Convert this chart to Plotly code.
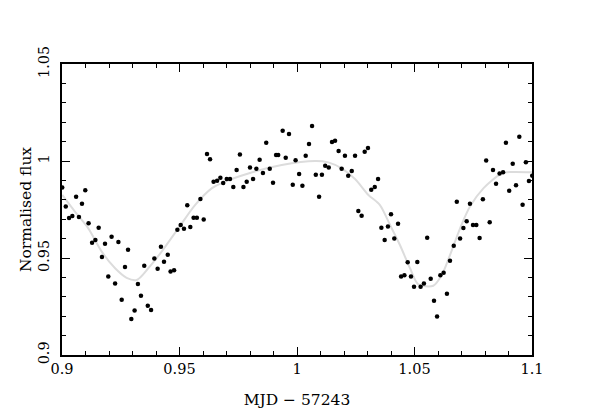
import plotly.graph_objects as go

# Observed points: MJD - 57243, normalised flux
mjd = [0.9001, 0.9016, 0.9030, 0.9044, 0.9060, 0.9072, 0.9085, 0.9099, 0.9113, 0.9128,
       0.9142, 0.9156, 0.9170, 0.9183, 0.9197, 0.9211, 0.9226, 0.9240, 0.9254, 0.9268,
       0.9281, 0.9295, 0.9309, 0.9323, 0.9336, 0.9350, 0.9365, 0.9379, 0.9393, 0.9407,
       0.9421, 0.9434, 0.9450, 0.9462, 0.9477, 0.9491, 0.9505, 0.9519, 0.9533, 0.9546,
       0.9560, 0.9574, 0.9589, 0.9603, 0.9617, 0.9630, 0.9645, 0.9660, 0.9674, 0.9686,
       0.9701, 0.9715, 0.9729, 0.9743, 0.9757, 0.9772, 0.9786, 0.9800, 0.9813, 0.9827,
       0.9841, 0.9855, 0.9869, 0.9884, 0.9898, 0.9911, 0.9920, 0.9939, 0.9952, 0.9966,
       0.9982, 0.9994, 1.0009, 1.0023, 1.0037, 1.0051, 1.0064, 1.0080, 1.0094, 1.0106,
       1.0120, 1.0135, 1.0149, 1.0162, 1.0177, 1.0190, 1.0204, 1.0218, 1.0233, 1.0247,
       1.0261, 1.0275, 1.0288, 1.0302, 1.0316, 1.0331, 1.0345, 1.0359, 1.0373, 1.0387,
       1.0400, 1.0414, 1.0430, 1.0443, 1.0457, 1.0471, 1.0485, 1.0498, 1.0512, 1.0526,
       1.0540, 1.0554, 1.0569, 1.0583, 1.0596, 1.0610, 1.0624, 1.0638, 1.0651, 1.0667,
       1.0680, 1.0694, 1.0708, 1.0722, 1.0736, 1.0749, 1.0763, 1.0777, 1.0791, 1.0805,
       1.0820, 1.0834, 1.0847, 1.0862, 1.0877, 1.0889, 1.0903, 1.0918, 1.0932, 1.0946,
       1.0960, 1.0974, 1.0987, 1.1001]
flux = [0.9864, 0.9765, 0.9706, 0.9716, 0.9816, 0.9711, 0.9780, 0.9849, 0.9679, 0.9579,
        0.9593, 0.9656, 0.9505, 0.9574, 0.9405, 0.9610, 0.9368, 0.9582, 0.9285, 0.9454,
        0.9543, 0.9186, 0.9229, 0.9366, 0.9306, 0.9460, 0.9254, 0.9232, 0.9497, 0.9445,
        0.9558, 0.9481, 0.9517, 0.9430, 0.9437, 0.9646, 0.9670, 0.9651, 0.9772, 0.9660,
        0.9708, 0.9708, 0.9804, 0.9698, 1.0036, 1.0009, 0.9893, 0.9898, 0.9914, 0.9887,
        0.9907, 0.9907, 0.9866, 0.9954, 1.0034, 0.9866, 0.9893, 0.9966, 0.9907, 0.9960,
        1.0007, 0.9938, 1.0094, 0.9960, 0.9888, 1.0031, 1.0031, 1.0156, 1.0017, 1.0139,
        0.9878, 1.0004, 0.9933, 0.9873, 1.0027, 1.0088, 1.0180, 0.9929, 0.9816, 0.9929,
        0.9976, 0.9966, 1.0098, 1.0105, 1.0052, 0.9960, 1.0027, 0.9924, 0.9948, 1.0027,
        0.9742, 0.9718, 1.0048, 1.0067, 0.9852, 0.9866, 0.9907, 0.9656, 0.9593, 0.9663,
        0.9725, 0.9601, 0.9677, 0.9405, 0.9411, 0.9478, 0.9405, 0.9352, 0.9479, 0.9352,
        0.9368, 0.9605, 0.9393, 0.9280, 0.9198, 0.9411, 0.9424, 0.9316, 0.9486, 0.9563,
        0.9790, 0.9600, 0.9655, 0.9689, 0.9780, 0.9670, 0.9670, 0.9603, 0.9803, 1.0002,
        0.9684, 0.9954, 0.9883, 0.9935, 0.9942, 1.0094, 0.9847, 0.9986, 0.9875, 1.0125,
        0.9775, 0.9993, 0.9897, 0.9924]

# Model light curve
model_x = [0.9001, 0.9055, 0.9112, 0.9169, 0.9226, 0.9275, 0.9318, 0.9367, 0.9424, 0.9495,
           0.9566, 0.9637, 0.9686, 0.9793, 0.9935, 1.0077, 1.0133, 1.0190, 1.0247, 1.0304,
           1.0353, 1.0396, 1.0438, 1.0481, 1.0516, 1.0580, 1.0616, 1.0651, 1.0694, 1.0736,
           1.0793, 1.0864, 1.0892, 1.1001]
model_y = [0.9825, 0.9739, 0.9653, 0.9533, 0.9447, 0.9398, 0.9387, 0.9447, 0.9533, 0.9653,
           0.9773, 0.9859, 0.9890, 0.9936, 0.9979, 1.0000, 0.9993, 0.9962, 0.9907, 0.9825,
           0.9773, 0.9670, 0.9567, 0.9447, 0.9364, 0.9357, 0.9412, 0.9515, 0.9653, 0.9765,
           0.9859, 0.9931, 0.9942, 0.9942]

x_ticks = [0.9, 0.95, 1.0, 1.05, 1.1]
x_labels = ["0.9", "0.95", "1", "1.05", "1.1"]
y_ticks = [0.9, 0.95, 1.0, 1.05]
y_labels = ["0.9", "0.95", "1", "1.05"]

FONT = "DejaVu Serif"

fig = go.Figure()
fig.add_trace(go.Scatter(x=model_x, y=model_y, mode="lines",
                         line=dict(color="#dcdcdc", width=2, shape="spline", smoothing=0.8),
                         hoverinfo="skip", showlegend=False))
fig.add_trace(go.Scatter(x=mjd, y=flux, mode="markers",
                         marker=dict(color="black", size=4.5, line=dict(width=0)),
                         showlegend=False))

axis_common = dict(showgrid=False, zeroline=False, showline=True, linecolor="black",
                   linewidth=1.5, mirror="allticks", ticks="inside", ticklen=8,
                   tickwidth=1.2, tickcolor="black", automargin=False,
                   tickfont=dict(family=FONT, size=14.5, color="black"))

fig.update_xaxes(range=[0.9, 1.1], tickvals=x_ticks, ticktext=x_labels,
                 minor=dict(ticks="inside", dtick=0.01, tick0=0.9, ticklen=4,
                            tickwidth=1.2, tickcolor="black"),
                 title=dict(text="MJD − 57243", font=dict(family=FONT, size=15.5, color="black"),
                            standoff=18),
                 **axis_common)
fig.update_yaxes(range=[0.9, 1.05], tickvals=y_ticks, ticktext=y_labels, tickangle=-90,
                 ticklabelstandoff=5,
                 minor=dict(ticks="inside", dtick=0.01, tick0=0.9, ticklen=4,
                            tickwidth=1.2, tickcolor="black"),
                 title=dict(text="Normalised flux", font=dict(family=FONT, size=15.5, color="black"),
                            standoff=1),
                 **axis_common)

# page body has an 8px margin, so the figure is offset by (8, 8)
fig.update_layout(width=588, height=410, margin=dict(l=54, r=64, t=56, b=63),
                  paper_bgcolor="white", plot_bgcolor="white")

fig.write_html("out.html")
